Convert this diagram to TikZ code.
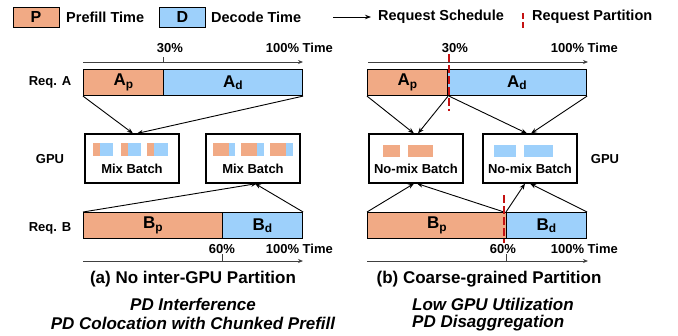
\documentclass[tikz,border=0pt]{standalone}
\usepackage{fontspec}
\setmainfont{Liberation Sans}
\usetikzlibrary{arrows.meta}

\definecolor{prefill}{RGB}{241,170,133}
\definecolor{decode}{RGB}{157,208,251}
\definecolor{cut}{RGB}{196,18,18}

\tikzset{
  txt/.style={inner sep=0pt, font=\fontsize{13}{15}\selectfont\bfseries},
  leg/.style={inner sep=0pt, font=\fontsize{14.5}{17}\selectfont\bfseries},
  key/.style={draw, line width=1pt, inner sep=0pt, minimum width=46pt, minimum height=20pt, font=\fontsize{16}{18}\selectfont\bfseries},
  bar/.style={draw, line width=1.1pt, anchor=north west, inner sep=0pt, minimum height=26pt, font=\fontsize{17}{19}\selectfont\bfseries},
  gpubox/.style={draw, line width=1.1pt, minimum width=94pt, minimum height=49pt},
  sched/.style={line width=0.9pt, -{Stealth[length=6pt,width=4.5pt]}},
  timeline/.style={black!75, line width=0.8pt, -{Stealth[length=5pt,width=4pt]}},
  partcut/.style={cut, line width=1.8pt, dash pattern=on 8pt off 3pt},
  capt/.style={inner sep=0pt, font=\fontsize{17}{19}\selectfont\bfseries},
  note/.style={inner sep=0pt, font=\fontsize{17}{19}\selectfont\bfseries\itshape},
}

\begin{document}
\begin{tikzpicture}[x=1pt, y=-1pt]
  \useasboundingbox (0,0) rectangle (678,335);

  % legend
  \node[key, fill=prefill] (keyP) at (36,17) {P};
  \node[leg, anchor=west] (keyPtxt) at (66,17) {Prefill Time};
  \node[key, fill=decode] (keyD) at (182.5,17) {D};
  \node[leg, anchor=west] (keyDtxt) at (211,17) {Decode Time};
  \coordinate (keyA0) at (333,17);
  \coordinate (keyA1) at (371,17);
  \draw[sched] (keyA0) -- (keyA1);
  \node[leg, anchor=west] (keyStxt) at (378,17) {Request Schedule};
  \coordinate (keyC0) at (523,13);
  \coordinate (keyC1) at (523,28);
  \draw[partcut, dash pattern=on 6pt off 3pt] (keyC0) -- (keyC1);
  \node[leg, anchor=west] (keyCtxt) at (532,17) {Request Partition};

  % (a) no inter-GPU partition
  \node[txt] (reqA) at (50,82) {Req. A};
  \node[txt] (gpuL) at (50,159) {GPU};
  \node[txt] (reqB) at (50,228) {Req. B};

  \coordinate (tA0) at (83,62);
  \coordinate (tA1) at (303,62);
  \draw[timeline] (tA0) -- (tA1);
  \draw[black!75, line width=0.8pt] (163,57) -- (163,62);
  \node[txt] (pA30) at (170,48) {30\%};
  \node[txt, anchor=east] (tAend) at (333,48) {100\% Time};

  \node[bar, fill=prefill, minimum width=80pt] (Ap) at (83,69) {A\textsubscript{p}};
  \node[bar, fill=decode, minimum width=139pt] (Ad) at (163,69) {A\textsubscript{d}};

  \node[gpubox] (mix1) at (132,158.5) {};
  \node[gpubox] (mix2) at (253,158.5) {};
  \foreach \a/\b/\c in {93/100/113, 121/128/141, 147/154/168, 213/229/235, 241/257/264, 270/286/293} {
    \fill[prefill] (\a,143) rectangle (\b,156);
    \fill[decode] (\b,143) rectangle (\c,156);
  }
  \node[txt] (mix1txt) at (132,169) {Mix Batch};
  \node[txt] (mix2txt) at (253,169) {Mix Batch};

  \draw[sched] (Ap.south west) -- ([xshift=1pt]mix1.north);
  \draw[sched] (Ad.south east) -- ([xshift=5pt]mix1.north);

  \node[bar, fill=prefill, minimum width=139pt] (Bp) at (83,212) {B\textsubscript{p}};
  \node[bar, fill=decode, minimum width=80pt] (Bd) at (222,212) {B\textsubscript{d}};
  \draw[sched] (Bp.north west) -- ([xshift=4pt]mix2.south);
  \draw[sched] (Bd.north east) -- ([xshift=2pt]mix2.south);

  \coordinate (tB0) at (83,261);
  \coordinate (tB1) at (303,261);
  \draw[timeline] (tB0) -- (tB1);
  \draw[black!75, line width=0.8pt] (222,254) -- (222,261);
  \node[txt] (pB60) at (222,249) {60\%};
  \node[txt, anchor=east] (tBend) at (333,249) {100\% Time};

  \node[capt] (captA) at (193,279) {(a) No inter-GPU Partition};
  \node[note] (noteA1) at (193,304) {PD Interference};
  \node[note] (noteA2) at (193,323) {PD Colocation with Chunked Prefill};

  % (b) coarse-grained partition
  \node[txt] (gpuR) at (605,159) {GPU};

  \coordinate (tC0) at (368,62);
  \coordinate (tC1) at (588,62);
  \draw[timeline] (tC0) -- (tC1);
  \node[txt] (pC30) at (455,48) {30\%};
  \node[txt, anchor=east] (tCend) at (618,48) {100\% Time};

  \node[bar, fill=prefill, minimum width=80pt] (Ap2) at (367,69) {A\textsubscript{p}};
  \node[bar, fill=decode, minimum width=139pt] (Ad2) at (447,69) {A\textsubscript{d}};

  \node[gpubox] (nomix1) at (416,158.5) {};
  \node[gpubox] (nomix2) at (530,158.5) {};
  \foreach \a/\b in {383/400, 408/433} {
    \fill[prefill] (\a,145) rectangle (\b,157);
  }
  \foreach \a/\b in {494/516, 524/553} {
    \fill[decode] (\a,145) rectangle (\b,157);
  }
  \node[txt] (nomix1txt) at (416,169) {No-mix Batch};
  \node[txt] (nomix2txt) at (530,169) {No-mix Batch};

  \draw[sched] (Ap2.south west) -- ([xshift=-2pt]nomix1.north);
  \draw[sched] (Ap2.south east) -- ([xshift=2pt]nomix1.north);
  \draw[sched] ([xshift=2pt]Ad2.south west) -- ([xshift=-3pt]nomix2.north);
  \draw[sched] (Ad2.south east) -- ([xshift=1pt]nomix2.north);

  \node[bar, fill=prefill, minimum width=139pt] (Bp2) at (367,212) {B\textsubscript{p}};
  \node[bar, fill=decode, minimum width=80pt] (Bd2) at (506,212) {B\textsubscript{d}};
  \draw[sched] (Bp2.north west) -- ([xshift=-2pt]nomix1.south);
  \draw[sched] ([xshift=-3pt]Bp2.north east) -- ([xshift=1pt]nomix1.south);
  \draw[sched] (Bd2.north west) -- ([xshift=-5pt]nomix2.south);
  \draw[sched] (Bd2.north east) -- (nomix2.south);

  \coordinate (tD0) at (367,261);
  \coordinate (tD1) at (588,261);
  \draw[timeline] (tD0) -- (tD1);
  \draw[black!75, line width=0.8pt] (506,254) -- (506,261);
  \node[txt] (pD60) at (503,249) {60\%};
  \node[txt, anchor=east] (tDend) at (618,249) {100\% Time};

  \coordinate (cutA0) at (449,54);
  \coordinate (cutA1) at (449,111);
  \draw[partcut] (cutA0) -- (cutA1);
  \coordinate (cutB0) at (504,195);
  \coordinate (cutB1) at (504,243);
  \draw[partcut] (cutB0) -- (cutB1);

  \node[capt] (captB) at (489,279) {(b) Coarse-grained Partition};
  \node[note, anchor=west] (noteB1) at (412,304) {Low GPU Utilization};
  \node[note, anchor=west] (noteB2) at (412,323) {PD Disaggregation};
\end{tikzpicture}
\end{document}
